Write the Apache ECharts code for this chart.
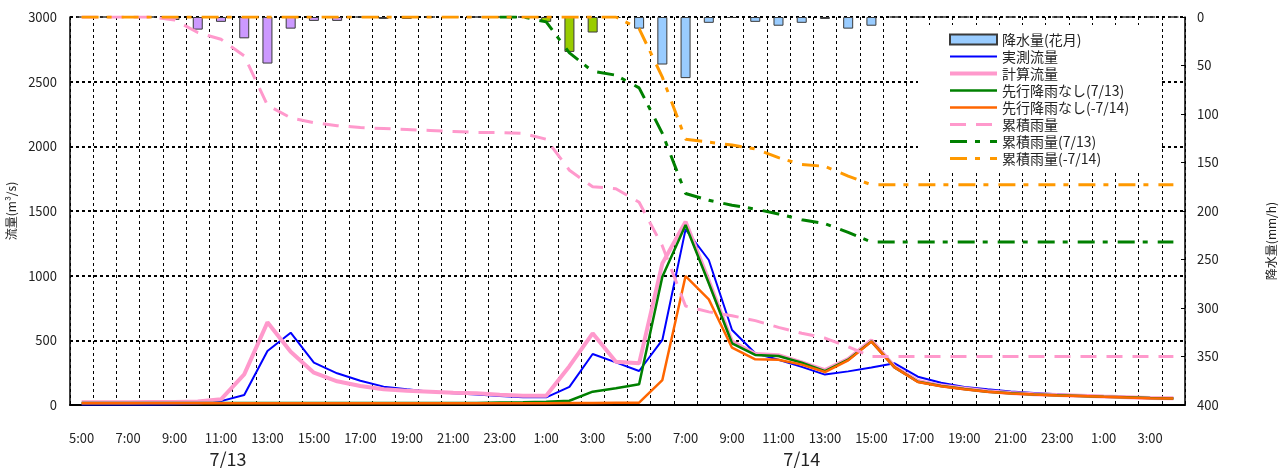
<!DOCTYPE html>
<html>
<head>
<meta charset="utf-8">
<script src="https://cdn.jsdelivr.net/npm/echarts@6/dist/echarts.min.js"></script>
<style>
  html, body { margin: 0; padding: 0; background: #fff; }
  #chart { width: 1279px; height: 468px; }
</style>
</head>
<body>
<div id="chart"></div>
<script>
// hourly categories, 7/13 5:00 -> 7/15 4:00
const hours = [
  "5:00", "6:00", "7:00", "8:00", "9:00", "10:00", "11:00", "12:00", "13:00", "14:00",
  "15:00", "16:00", "17:00", "18:00", "19:00", "20:00", "21:00", "22:00", "23:00", "0:00",
  "1:00", "2:00", "3:00", "4:00", "5:00", "6:00", "7:00", "8:00", "9:00", "10:00",
  "11:00", "12:00", "13:00", "14:00", "15:00", "16:00", "17:00", "18:00", "19:00", "20:00",
  "21:00", "22:00", "23:00", "0:00", "1:00", "2:00", "3:00", "4:00"
];
const dateLabels = ["7/13", "7/14"];
const dateLabelAt = [6, 31];

// rainfall (mm/h), coloured by period: 7/13 | early 7/14 | from 5:00 7/14
const rainfall = [
  0, 0, 0, 0, 3, 13, 5, 22, 48, 12,
  4, 4, 0, 2, 2, 0, 0, 0, 0, 0,
  5, 36, 16, 1, 12, 49, 63, 6, 1, 5,
  9, 6, 2, 12, 9, 0, 0, 0, 0, 0,
  0, 0, 0, 0, 0, 0, 0, 0
];
const rainBreaks = [20, 24];

// flows (m3/s)
const measuredFlow = [
  3, 3, 3, 3, 5, 10, 30, 77, 417, 559,
  327, 245, 188, 142, 121, 103, 90, 82, 70, 59,
  59, 140, 394, 330, 263, 503, 1358, 1121, 580, 400,
  350, 295, 235, 260, 290, 322, 219, 172, 140, 122,
  105, 93, 83, 73, 67, 61, 56, 52
];
const calcFlow = [
  22, 22, 22, 23, 24, 28, 44, 237, 639, 412,
  250, 183, 147, 121, 111, 103, 95, 90, 80, 72,
  72, 300, 554, 335, 322, 1095, 1417, 960, 490, 394,
  385, 330, 270, 355, 500, 295, 185, 150, 127, 106,
  93, 84, 77, 71, 65, 60, 55, 52
];
const flowNoPrior713 = [
  15, 15, 15, 15, 15, 15, 15, 15, 15, 15,
  15, 15, 15, 15, 15, 15, 15, 15, 19, 21,
  26, 33, 103, 129, 160, 992, 1392, 941, 477, 387,
  379, 328, 262, 350, 492, 291, 180, 147, 124, 103,
  90, 82, 75, 70, 64, 59, 54, 51
];
const flowNoPrior714 = [
  13, 13, 13, 13, 13, 13, 13, 13, 13, 13,
  13, 13, 13, 13, 13, 13, 13, 13, 13, 13,
  14, 15, 16, 17, 18, 193, 997, 817, 443, 353,
  350, 312, 255, 345, 490, 291, 178, 145, 122, 102,
  89, 81, 74, 69, 63, 58, 53, 50
];

// cumulative rainfall (mm)
const cumRain = [
  0, 0, 0, 0, 3, 16, 23, 40, 91, 104,
  109, 112, 114, 115, 116, 117, 118, 119, 119, 120,
  126, 158, 175, 177, 191, 236, 298, 304, 308, 313,
  320, 326, 331, 340, 350, 350, 350, 350, 350, 350,
  350, 350, 350, 350, 350, 350, 350, 350
];
const cumRain713 = [
  null, null, null, null, null, null, null, null, null, null,
  null, null, null, null, null, null, null, null, 0, 0,
  5, 37, 56, 60, 73, 120, 182, 189, 194, 198,
  203, 209, 213, 222, 232, 232, 232, 232, 232, 232,
  232, 232, 232, 232, 232, 232, 232, 232
];
const cumRain714 = [
  0, 0, 0, 0, 0, 0, 0, 0, 0, 0,
  0, 0, 0, 0, 0, 0, 0, 0, 0, 0,
  0, 0, 0, 0, 12, 62, 126, 129, 132, 136,
  145, 152, 154, 164, 173, 173, 173, 173, 173, 173,
  173, 173, 173, 173, 173, 173, 173, 173
];

const FONT = "Noto Sans CJK JP";
const TXT = "#222";

const rainPart = (from, to) =>
  rainfall.map((v, i) => (i >= from && i < to ? v : null));

const barSeries = (name, data, color) => ({
  name: name,
  type: "bar",
  yAxisIndex: 1,
  stack: "rain",
  barWidth: 10,
  data: data,
  itemStyle: { color: color, borderColor: "#3a3a3a", borderWidth: 1 },
});

const lineSeries = (name, data, color, width, type, yAxisIndex) => ({
  name: name,
  type: "line",
  yAxisIndex: yAxisIndex || 0,
  data: data,
  symbol: "none",
  lineStyle: { color: color, width: width, type: type || "solid" },
  itemStyle: { color: color },
});

const chart = echarts.init(document.getElementById("chart"));

chart.setOption({
  animation: false,
  textStyle: { fontFamily: FONT },
  grid: { left: 70, right: 94, top: 17, bottom: 63, outerBoundsMode: "none" },
  legend: {
    data: [
      { name: "降水量(花月)", icon: "rect", itemStyle: { opacity: 1 } },
      "実測流量", "計算流量", "先行降雨なし(7/13)", "先行降雨なし(-7/14)",
      "累積雨量", "累積雨量(7/13)", "累積雨量(-7/14)",
    ],
    orient: "vertical",
    left: 918,
    top: 25,
    padding: [7, 32, 5, 30],
    backgroundColor: "#fff",
    itemWidth: 47,
    itemHeight: 10,
    itemGap: 2,
    // hide the circle marker that line series put on their legend icon
    itemStyle: { opacity: 0 },
    lineStyle: { width: "inherit" },
    textStyle: { fontSize: 14, lineHeight: 15, color: TXT, fontFamily: FONT },
  },
  xAxis: [
    {
      type: "category",
      data: hours,
      boundaryGap: true,
      axisLine: { lineStyle: { color: "#000", width: 2 } },
      axisTick: { show: false },
      axisLabel: { interval: 1, margin: 27, fontSize: 13, color: TXT },
      splitLine: {
        show: true,
        interval: 0,
        lineStyle: { color: "#000", width: 1, type: [3, 3] },
      },
    },
    {
      // date row under the hour labels
      type: "category",
      data: hours,
      position: "bottom",
      axisLine: { show: false },
      axisTick: { show: false },
      splitLine: { show: false },
      axisLabel: {
        interval: 0,
        margin: 45,
        fontSize: 18,
        color: TXT,
        formatter: (v, i) => {
          const k = dateLabelAt.indexOf(i);
          if (k < 0) return "";
          return k === 0 ? "{shift|" + dateLabels[k] + "}" : dateLabels[k];
        },
        rich: { shift: { fontSize: 18, color: TXT, padding: [0, 0, 0, 14] } },
      },
    },
  ],
  yAxis: [
    {
      type: "value",
      min: 0,
      max: 3000,
      interval: 500,
      position: "left",
      name: "流量(m³/s)",
      nameLocation: "middle",
      nameRotate: 90,
      nameGap: 52,
      nameTextStyle: { fontSize: 12, color: TXT },
      axisLine: { show: true, lineStyle: { color: "#000", width: 1.5 } },
      axisTick: { show: false },
      axisLabel: { fontSize: 13, color: TXT, margin: 13, formatter: (v) => String(v) },
      splitLine: { lineStyle: { color: "#000", width: 2, type: [3, 3] } },
    },
    {
      type: "value",
      min: 0,
      max: 400,
      interval: 50,
      inverse: true,
      position: "right",
      name: "降水量(mm/h)",
      nameLocation: "middle",
      nameRotate: 90,
      nameGap: 80,
      nameTextStyle: { fontSize: 12, color: TXT, padding: [0, 60, 0, 0] },
      axisLine: { show: true, lineStyle: { color: "#000", width: 1.5 } },
      axisTick: { show: true, inside: true, length: 4, lineStyle: { color: "#000" } },
      axisLabel: { fontSize: 13, color: TXT, margin: 12 },
      splitLine: { show: false },
    },
  ],
  series: [
    barSeries("降水量(7/13)", rainPart(0, rainBreaks[0]), "#CC99FF"),
    barSeries("降水量(7/14前)", rainPart(rainBreaks[0], rainBreaks[1]), "#99CC00"),
    barSeries("降水量(花月)", rainPart(rainBreaks[1], rainfall.length), "#99CCFF"),
    lineSeries("実測流量", measuredFlow, "#0000FF", 2),
    lineSeries("計算流量", calcFlow, "#FF99CC", 4),
    lineSeries("先行降雨なし(7/13)", flowNoPrior713, "#008000", 2.5),
    lineSeries("先行降雨なし(-7/14)", flowNoPrior714, "#FF6600", 2.5),
    lineSeries("累積雨量", cumRain, "#FF99CC", 3, [16, 10], 1),
    lineSeries("累積雨量(7/13)", cumRain713, "#008000", 3, [17, 8, 5, 10], 1),
    lineSeries("累積雨量(-7/14)", cumRain714, "#FF9900", 3, [17, 8, 5, 10], 1),
  ],
});
</script>
</body>
</html>
